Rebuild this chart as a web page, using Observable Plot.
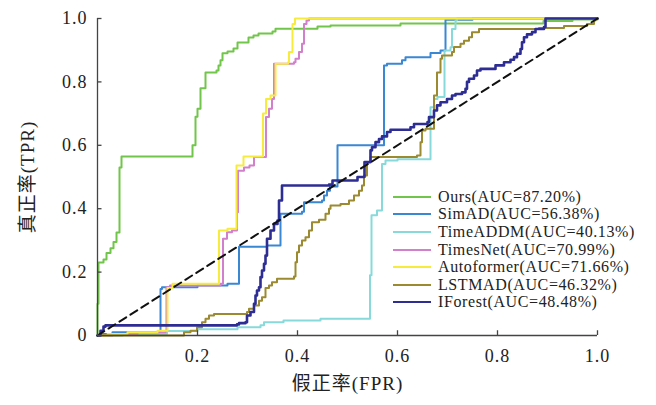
<!DOCTYPE html>
<html><head><meta charset="utf-8">
<script src="https://cdn.jsdelivr.net/npm/d3@7"></script>
<script src="https://cdn.jsdelivr.net/npm/@observablehq/plot@0.6"></script>
<style>
body{margin:0;background:#fff;}
#wrap{position:relative;width:656px;height:405px;}
#legend{position:absolute;left:393px;top:188px;font-family:"Liberation Serif","Times New Roman",serif;font-size:16px;letter-spacing:0.6px;color:#222;}
.row{display:flex;align-items:center;height:17.6px;white-space:nowrap;}
.sw{width:38px;height:0;border-top:2px solid;margin-right:7px;}
</style></head><body><div id="wrap"><div id="legend"></div></div>
<script>
// ---- data: [FPR, TPR] pairs ----
const ours = [[0,0],[0,0.10],[0.002,0.23],[0.012,0.24],[0.018,0.26],[0.026,0.275],[0.032,0.295],[0.038,0.325],[0.044,0.53],[0.048,0.565],[0.19,0.6],[0.196,0.69],[0.2,0.715],[0.206,0.78],[0.216,0.83],[0.238,0.836],[0.242,0.852],[0.246,0.868],[0.25,0.89],[0.26,0.896],[0.272,0.905],[0.28,0.924],[0.302,0.94],[0.312,0.946],[0.322,0.953],[0.35,0.959],[0.356,0.968],[0.44,0.975],[0.466,0.978],[0.606,0.984],[0.892,0.992],[0.95,0.997],[1,1]];
const simad = [[0,0],[0.005,0.005],[0.03,0.01],[0.126,0.147],[0.129,0.152],[0.2,0.158],[0.26,0.163],[0.283,0.28],[0.339,0.284],[0.366,0.384],[0.409,0.39],[0.413,0.42],[0.449,0.426],[0.453,0.442],[0.459,0.457],[0.465,0.47],[0.48,0.6],[0.573,0.852],[0.579,0.857],[0.609,0.868],[0.616,0.878],[0.666,0.891],[0.686,0.899],[0.696,0.996],[0.75,1],[1,1]];
const timeaddm = [[0,0],[0.05,0.005],[0.139,0.014],[0.2,0.02],[0.28,0.026],[0.326,0.032],[0.333,0.042],[0.372,0.047],[0.446,0.053],[0.545,0.19],[0.548,0.379],[0.559,0.394],[0.569,0.541],[0.576,0.552],[0.6,0.556],[0.666,0.72],[0.673,0.746],[0.68,0.752],[0.694,0.899],[0.706,0.909],[0.709,0.967],[0.716,0.994],[0.719,1],[1,1]];
const timesnet = [[0,0],[0.03,0.005],[0.08,0.01],[0.136,0.015],[0.138,0.152],[0.145,0.158],[0.246,0.163],[0.251,0.305],[0.259,0.326],[0.269,0.331],[0.279,0.389],[0.281,0.52],[0.293,0.53],[0.304,0.536],[0.313,0.563],[0.337,0.689],[0.343,0.715],[0.349,0.746],[0.353,0.857],[0.393,0.862],[0.396,0.873],[0.403,0.894],[0.409,0.92],[0.413,0.983],[0.418,0.994],[0.423,1],[1,1]];
const autoformer = [[0,0],[0.02,0.005],[0.06,0.01],[0.12,0.015],[0.14,0.018],[0.14,0.15],[0.15,0.163],[0.243,0.168],[0.243,0.331],[0.26,0.337],[0.278,0.536],[0.292,0.565],[0.331,0.575],[0.331,0.7],[0.337,0.746],[0.346,0.757],[0.356,0.857],[0.381,0.862],[0.383,0.894],[0.39,0.983],[0.395,1],[1,1]];
const lstmad = [[0,0],[0.173,0.01],[0.186,0.015],[0.199,0.026],[0.209,0.042],[0.216,0.053],[0.223,0.063],[0.233,0.068],[0.299,0.074],[0.303,0.084],[0.313,0.095],[0.323,0.11],[0.329,0.121],[0.336,0.15],[0.343,0.158],[0.349,0.168],[0.359,0.179],[0.393,0.186],[0.396,0.231],[0.399,0.263],[0.403,0.284],[0.409,0.3],[0.416,0.31],[0.423,0.331],[0.429,0.357],[0.443,0.365],[0.456,0.384],[0.463,0.4],[0.466,0.41],[0.486,0.415],[0.503,0.426],[0.513,0.442],[0.523,0.457],[0.529,0.473],[0.533,0.505],[0.539,0.547],[0.546,0.563],[0.639,0.568],[0.646,0.61],[0.649,0.647],[0.656,0.652],[0.673,0.757],[0.679,0.83],[0.686,0.873],[0.689,0.883],[0.709,0.894],[0.713,0.91],[0.726,0.92],[0.733,0.93],[0.743,0.941],[0.749,0.957],[0.763,0.967],[0.883,0.97],[0.933,0.976],[0.979,0.983],[0.993,0.994],[0.996,1],[1,1]];
const iforest = [[0,0],[0.006,0.015],[0.012,0.028],[0.016,0.032],[0.279,0.035],[0.283,0.039],[0.296,0.042],[0.299,0.063],[0.306,0.074],[0.313,0.1],[0.316,0.126],[0.319,0.142],[0.323,0.152],[0.326,0.184],[0.329,0.205],[0.333,0.226],[0.336,0.252],[0.339,0.305],[0.346,0.331],[0.353,0.352],[0.36,0.363],[0.363,0.426],[0.369,0.473],[0.463,0.476],[0.47,0.489],[0.52,0.5],[0.534,0.547],[0.546,0.584],[0.549,0.594],[0.556,0.61],[0.563,0.62],[0.569,0.628],[0.579,0.642],[0.586,0.649],[0.626,0.657],[0.633,0.667],[0.66,0.673],[0.663,0.689],[0.673,0.71],[0.679,0.726],[0.686,0.736],[0.699,0.746],[0.709,0.757],[0.716,0.762],[0.729,0.767],[0.736,0.778],[0.739,0.8],[0.743,0.81],[0.753,0.82],[0.759,0.836],[0.766,0.841],[0.796,0.852],[0.813,0.862],[0.826,0.87],[0.833,0.878],[0.839,0.889],[0.846,0.904],[0.849,0.925],[0.853,0.941],[0.859,0.95],[0.869,0.957],[0.876,0.967],[0.893,0.973],[0.896,1],[1,1]];
const diagonal = [[0,0],[1,1]];

const seriesNames = ["Ours","SimAD","TimeADDM","TimesNet","Autoformer","LSTMAD","IForest"];
const aucValues = ["87.20","56.38","40.13","70.99","71.66","46.32","48.48"];
const seriesData = [ours, simad, timeaddm, timesnet, autoformer, lstmad, iforest];
const seriesColors = ["#72c54b","#3a87d4","#88dada","#d27fcc","#f7ec3e","#9b8a30","#2d2d94"];
const seriesWidths = [2, 2, 2, 2, 2, 2, 2.6];

const yTicks = [0,0.2,0.4,0.6,0.8,1.0];
const yTickLabels = ["0","0.2","0.4","0.6","0.8","1.0"];
const xTicks = [0.2,0.4,0.6,0.8,1.0];
const xTickLabels = ["0.2","0.4","0.6","0.8","1.0"];
const xTitle = "假正率(FPR)";
const yTitle = "真正率(TPR)";

const font = '"Liberation Serif","Times New Roman","Noto Sans CJK SC",serif';

const lineMarks = seriesData.map((d, i) =>
  Plot.line(d, {x: p => p[0], y: p => p[1], curve: "step-after", stroke: seriesColors[i], strokeWidth: seriesWidths[i]})
);

const plot = Plot.plot({
  width: 656, height: 405,
  marginLeft: 97, marginRight: 59, marginTop: 18, marginBottom: 70,
  style: {fontFamily: font, fontSize: "18px", color: "#222", background: "#fff", overflow: "visible"},
  x: {domain: [0, 1]},
  y: {domain: [0, 1]},
  marks: [
    ...lineMarks,
    Plot.line(diagonal, {x: p => p[0], y: p => p[1], stroke: "#111", strokeWidth: 2, strokeDasharray: "8,5"}),
    Plot.ruleX([0], {stroke: "#444", strokeWidth: 1.3}),
    Plot.ruleY([0], {stroke: "#444", strokeWidth: 1.3}),
    Plot.ruleY(yTicks, {x1: 0, x2: 0.009, stroke: "#444", strokeWidth: 1.3}),
    Plot.ruleX(xTicks, {y1: 0, y2: 0.015, stroke: "#444", strokeWidth: 1.3}),
    Plot.axisY(yTicks, {tickSize: 0, tickPadding: 10, tickFormat: d => yTickLabels[yTicks.indexOf(d)], label: null, fontSize: 18, style: {letterSpacing: "1.5px"}}),
    Plot.axisX(xTicks, {tickSize: 0, tickPadding: 14, tickFormat: d => xTickLabels[xTicks.indexOf(d)], label: null, fontSize: 18}),
    Plot.text([yTitle], {frameAnchor: "left", dx: -70, rotate: -90, text: d => d, fontSize: 19, lineAnchor: "middle", textAnchor: "middle", fill: "#222"}),
    Plot.text([xTitle], {frameAnchor: "bottom", dy: 48, text: d => d, fontSize: 19, lineAnchor: "middle", textAnchor: "middle", fill: "#222"})
  ]
});
plot.style.letterSpacing = "1px";
document.getElementById("wrap").prepend(plot);

const legend = document.getElementById("legend");
seriesNames.forEach((n, i) => {
  const row = document.createElement("div");
  row.className = "row";
  const sw = document.createElement("span");
  sw.className = "sw";
  sw.style.borderTopColor = seriesColors[i];
  const t = document.createElement("span");
  t.textContent = `${n}(AUC=${aucValues[i]}%)`;
  row.append(sw, t);
  legend.append(row);
});
</script></body></html>
